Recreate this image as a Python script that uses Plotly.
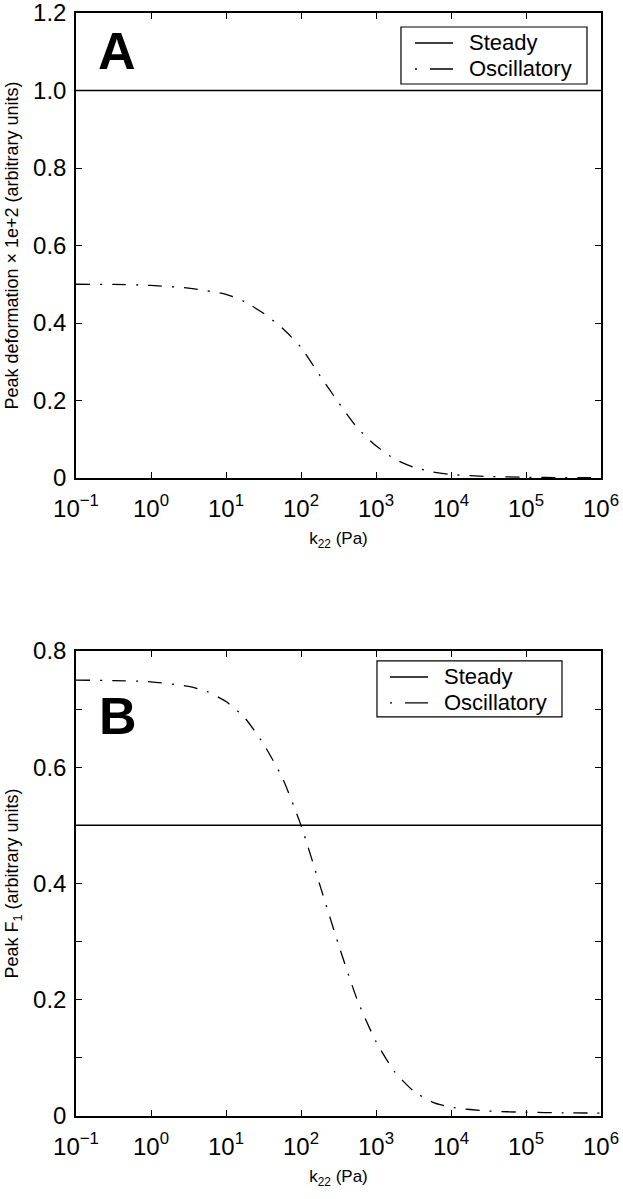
import plotly.graph_objects as go
from plotly.subplots import make_subplots

# ---- data (log10 of k22 in Pa, values) ----
logk_a = [-1.0, -0.5, 0.0, 0.5, 1.0, 1.25, 1.5, 1.75, 2.0, 2.25, 2.5, 2.75,
          3.0, 3.25, 3.5, 3.75, 4.0, 4.5, 5.0, 5.5, 6.0]
osc_a = [0.500, 0.4995, 0.497, 0.490, 0.474, 0.455, 0.425, 0.387, 0.337, 0.265,
         0.195, 0.130, 0.083, 0.049, 0.028, 0.016, 0.009, 0.004, 0.002, 0.001, 0.001]
steady_a = [1.0] * len(logk_a)

logk_b = [-1.0, -0.5, 0.0, 0.5, 0.75, 1.0, 1.25, 1.5, 1.75, 2.0, 2.25, 2.5, 2.75,
          3.0, 3.25, 3.5, 3.75, 4.0, 4.5, 5.0, 5.5, 6.0]
osc_b = [0.750, 0.749, 0.747, 0.739, 0.730, 0.713, 0.685, 0.640, 0.582, 0.500,
         0.398, 0.295, 0.200, 0.128, 0.076, 0.043, 0.024, 0.015, 0.0085, 0.0065,
         0.0055, 0.005]
steady_b = [0.5] * len(logk_b)

series_names = ["Steady", "Oscillatory"]
panel_labels = ["A", "B"]

x_tickvals = [0.1, 1, 10, 100, 1e3, 1e4, 1e5, 1e6]
x_ticktext = ["10<sup>\u22121</sup>", "10<sup>0</sup>", "10<sup>1</sup>", "10<sup>2</sup>",
              "10<sup>3</sup>", "10<sup>4</sup>", "10<sup>5</sup>", "10<sup>6</sup>"]
ya_tickvals = [0, 0.2, 0.4, 0.6, 0.8, 1.0, 1.2]
ya_ticktext = ["0", "0.2", "0.4", "0.6", "0.8", "1.0", "1.2"]
yb_tickvals = [0, 0.1, 0.2, 0.3, 0.4, 0.5, 0.6, 0.7, 0.8]
yb_ticktext = ["0", "", "0.2", "", "0.4", "", "0.6", "", "0.8"]

ka = [10 ** v for v in logk_a]
kb = [10 ** v for v in logk_b]

FONT = "Liberation Sans, Arial, Helvetica, sans-serif"
DASH = "14px,10px,2px,10px"
LEG_DASH = "2px,13px,23px,10px"

fig = make_subplots(rows=2, cols=1, vertical_spacing=0.1568)

fig.add_trace(go.Scatter(x=ka, y=steady_a, mode="lines", name=series_names[0],
                         line=dict(color="black", width=1.5), showlegend=False),
              row=1, col=1)
fig.add_trace(go.Scatter(x=ka, y=osc_a, mode="lines", name=series_names[1],
                         line=dict(color="black", width=1.3, dash=DASH, shape="spline",
                                   smoothing=0.6), showlegend=False),
              row=1, col=1)
fig.add_trace(go.Scatter(x=kb, y=steady_b, mode="lines", name=series_names[0],
                         line=dict(color="black", width=1.5), showlegend=False),
              row=2, col=1)
fig.add_trace(go.Scatter(x=kb, y=osc_b, mode="lines", name=series_names[1],
                         line=dict(color="black", width=1.3, dash=DASH, shape="spline",
                                   smoothing=0.6), showlegend=False),
              row=2, col=1)

axis_common = dict(showline=True, linecolor="black", linewidth=1.5, mirror="allticks",
                   ticks="inside", ticklen=6, tickwidth=1.2, tickcolor="black",
                   showgrid=False, zeroline=False, automargin=False,
                   ticklabeloverflow="allow",
                   tickfont=dict(family=FONT, size=24, color="black"))

for r in (1, 2):
    fig.update_xaxes(type="log", range=[-1, 6], tickvals=x_tickvals, ticktext=x_ticktext,
                     ticklabelstandoff=8,
                     title=dict(text="k<sub>22</sub> (Pa)", font=dict(family=FONT, size=17, color="black"),
                                standoff=12),
                     **axis_common, row=r, col=1)

fig.update_yaxes(range=[0, 1.2], tickvals=ya_tickvals, ticktext=ya_ticktext,
                 ticklabelstandoff=3,
                 title=dict(text="Peak deformation \u00d7 1e+2 (arbitrary units)",
                            font=dict(family=FONT, size=18, color="black"), standoff=10),
                 **axis_common, row=1, col=1)
fig.update_yaxes(range=[0, 0.8], tickvals=yb_tickvals, ticktext=yb_ticktext,
                 ticklabelstandoff=3,
                 title=dict(text="Peak F<sub>1</sub> (arbitrary units)",
                            font=dict(family=FONT, size=18, color="black"), standoff=10),
                 **axis_common, row=2, col=1)

# ---- hand-drawn legends (box, samples, labels) in axis-domain coordinates ----
shapes = []
annotations = []
legend_specs = [
    ("x domain", "y domain", (0.619, 0.9733, 0.8473, 0.9699), (0.6457, 0.7181), (0.9355, 0.8796), 0.7448),
    ("x2 domain", "y2 domain", (0.5733, 0.9257, 0.8581, 0.9785), (0.5981, 0.6705), (0.9441, 0.8882), 0.6971),
]
for xr, yr, box, sx, rows, tx in legend_specs:
    shapes.append(dict(type="rect", xref=xr, yref=yr, x0=box[0], x1=box[1], y0=box[2], y1=box[3],
                       line=dict(color="black", width=1.2), fillcolor="white", layer="above"))
    shapes.append(dict(type="line", xref=xr, yref=yr, x0=sx[0], x1=sx[1], y0=rows[0], y1=rows[0],
                       line=dict(color="black", width=1.5), layer="above"))
    shapes.append(dict(type="line", xref=xr, yref=yr, x0=sx[0], x1=sx[1], y0=rows[1], y1=rows[1],
                       line=dict(color="black", width=1.3, dash=LEG_DASH), layer="above"))
    for name, ry in zip(series_names, rows):
        annotations.append(dict(text=name, xref=xr, yref=yr, x=tx, y=ry, xanchor="left",
                                yanchor="middle", showarrow=False,
                                font=dict(family=FONT, size=22, color="black")))

annotations.append(dict(text="<b>" + panel_labels[0] + "</b>", xref="x domain", yref="y domain",
                        x=0.078, y=0.918, xanchor="center", yanchor="middle", showarrow=False,
                        font=dict(family=FONT, size=52, color="black")))
annotations.append(dict(text="<b>" + panel_labels[1] + "</b>", xref="x2 domain", yref="y2 domain",
                        x=0.08, y=0.86, xanchor="center", yanchor="middle", showarrow=False,
                        font=dict(family=FONT, size=52, color="black")))

fig.update_layout(
    width=623, height=1199,
    margin=dict(l=76, r=22, t=13, b=83),
    paper_bgcolor="white", plot_bgcolor="white",
    font=dict(family=FONT, color="black"),
    showlegend=False,
    shapes=shapes,
    annotations=annotations,
)

fig.write_html("out.html", config={"displayModeBar": False},
               post_script="document.body.style.margin='0';")
